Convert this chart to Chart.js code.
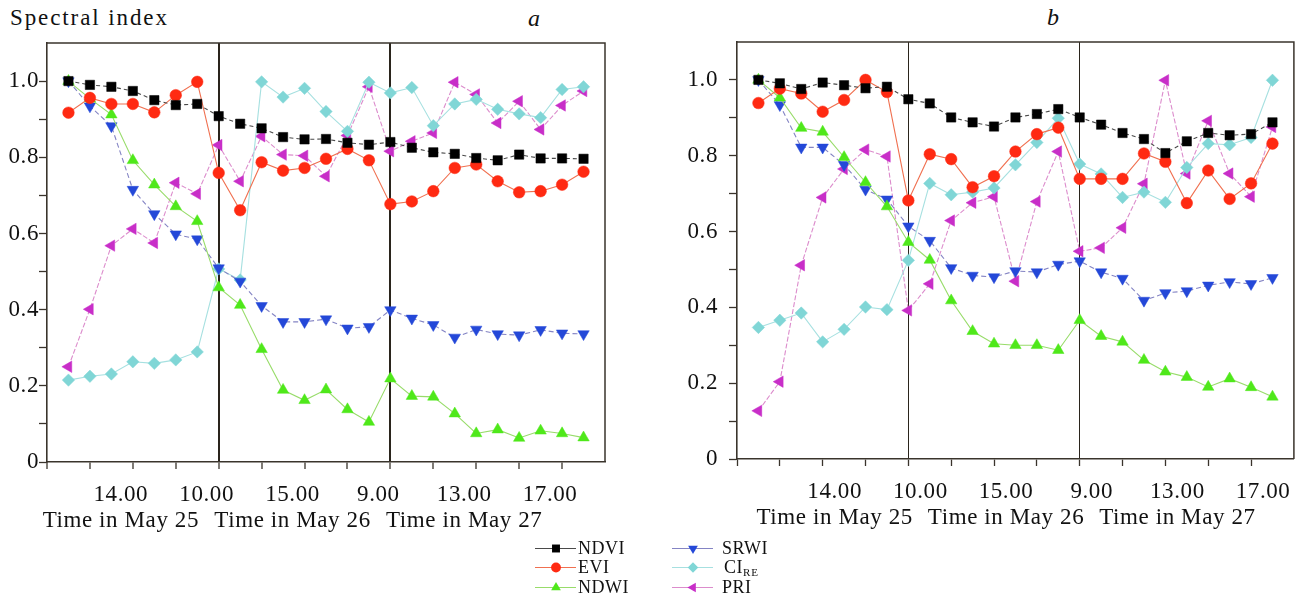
<!DOCTYPE html>
<html><head><meta charset="utf-8">
<script src="https://cdn.jsdelivr.net/npm/chart.js@4.4.1/dist/chart.umd.min.js"></script>
<style>
html,body{margin:0;padding:0;background:#fff;width:1301px;height:601px;overflow:hidden;}
body{position:relative;font-family:'Liberation Serif','Times New Roman',Tinos,'Nimbus Roman','DejaVu Serif',serif;color:#111;}
canvas.ch{position:absolute;top:0;}
#ca{left:0;}
#cb{left:650px;}
.ttl{position:absolute;font-size:23px;line-height:26px;white-space:nowrap;}
.pl{position:absolute;font-size:24px;font-style:italic;line-height:27px;}
.leg{position:absolute;height:18px;font-size:18px;line-height:18px;white-space:nowrap;}
.leg canvas{position:absolute;left:0;top:0;}
.leg span{position:absolute;top:0;}
.leg sub{font-size:11px;vertical-align:-3px;line-height:0;letter-spacing:1px;}
</style></head>
<body>
<div class="ttl" style="left:10px;top:5px;letter-spacing:1.9px;">Spectral index</div>
<div class="pl" style="left:528px;top:5px;">a</div>
<div class="pl" style="left:1047px;top:4px;">b</div>
<canvas id="ca" class="ch" width="650" height="542" style="width:650px;height:542px"></canvas>
<canvas id="cb" class="ch" width="651" height="542" style="width:651px;height:542px"></canvas>
<div id="legend"></div>
<script>
// ---- data ----
const samples = [0,1,2,3,4,5,6,7,8,9,10,11,12,13,14,15,16,17,18,19,20,21,22,23,24];
const xTickValues = [-1,1,3,5,7,9,11,13,15,17,19,21,23];
const hourTicks = [3,7,11,15,19,23];
const hourLabels = ['14.00','10.00','15.00','9.00','13.00','17.00'];
const dayTicks = [3,11,19];
const dayLabels = ['Time in May 25','Time in May 26','Time in May 27'];
const dayBreaks = [7,15];
const yTickValues = [0,0.1,0.2,0.3,0.4,0.5,0.6,0.7,0.8,0.9,1.0];
const seriesNames = ['NDVI','EVI','NDWI','SRWI','CI_RE','PRI'];

const aNDVI = [1.0,0.99,0.985,0.974,0.95,0.937,0.94,0.908,0.888,0.876,0.853,0.847,0.848,0.838,0.833,0.84,0.825,0.813,0.809,0.798,0.792,0.807,0.797,0.797,0.796];
const aEVI  = [0.917,0.956,0.94,0.94,0.918,0.963,0.998,0.759,0.661,0.787,0.765,0.772,0.796,0.822,0.792,0.677,0.684,0.711,0.772,0.781,0.737,0.708,0.711,0.728,0.762];
const aNDWI = [1.0,0.954,0.912,0.792,0.728,0.671,0.632,0.458,0.412,0.296,0.189,0.162,0.19,0.138,0.105,0.219,0.173,0.171,0.127,0.075,0.085,0.063,0.082,0.075,0.064];
const aSRWI = [1.0,0.934,0.882,0.715,0.651,0.598,0.585,0.509,0.474,0.41,0.368,0.368,0.375,0.351,0.355,0.399,0.377,0.36,0.327,0.348,0.336,0.333,0.347,0.338,0.336];
const aCIRE = [0.215,0.225,0.231,0.263,0.259,0.268,0.289,0.507,0.478,0.998,0.958,0.981,0.92,0.868,0.997,0.969,0.983,0.883,0.94,0.952,0.926,0.914,0.904,0.978,0.985];
const aPRI  = [0.25,0.401,0.568,0.612,0.575,0.733,0.704,0.832,0.737,0.855,0.807,0.804,0.75,0.857,0.985,0.816,0.842,0.864,0.997,0.965,0.89,0.947,0.873,0.936,0.974];

const bNDVI = [1.0,0.991,0.976,0.993,0.986,0.978,0.982,0.949,0.938,0.901,0.888,0.877,0.901,0.91,0.923,0.901,0.882,0.86,0.844,0.807,0.838,0.86,0.854,0.857,0.888];
const bEVI  = [0.939,0.977,0.964,0.916,0.947,1.0,0.968,0.682,0.804,0.791,0.717,0.746,0.811,0.857,0.874,0.739,0.739,0.739,0.806,0.784,0.675,0.761,0.686,0.727,0.832];
const bNDWI = [1.0,0.953,0.873,0.863,0.796,0.73,0.666,0.572,0.525,0.418,0.337,0.304,0.3,0.3,0.287,0.366,0.324,0.309,0.261,0.23,0.216,0.19,0.212,0.189,0.164];
const bSRWI = [1.0,0.934,0.822,0.822,0.776,0.711,0.685,0.614,0.576,0.504,0.484,0.48,0.496,0.493,0.513,0.522,0.493,0.476,0.418,0.438,0.443,0.458,0.467,0.462,0.478];
const bCIRE = [0.347,0.366,0.385,0.309,0.342,0.401,0.394,0.524,0.727,0.697,0.704,0.715,0.776,0.835,0.899,0.778,0.752,0.69,0.704,0.677,0.769,0.832,0.829,0.848,0.999];
const bPRI  = [0.127,0.204,0.511,0.69,0.765,0.816,0.798,0.392,0.462,0.629,0.676,0.692,0.469,0.679,0.811,0.548,0.557,0.61,0.726,0.999,0.753,0.892,0.753,0.692,0.876];

const FONT = "'Liberation Serif','Times New Roman',Tinos,'Nimbus Roman','DejaVu Serif',serif";

// ---- styles ----
const styles = [
  {marker:'#000000', line:'#4a4a4a', dash:[4,3], shape:'rect', rot:0, r:6.6},
  {marker:'#ff2a12', line:'#f07050', dash:[], shape:'circle', rot:0, r:5.8},
  {marker:'#4fe81a', line:'#98dc6a', dash:[], shape:'triangle', rot:0, r:6.6},
  {marker:'#2448d8', line:'#8484c4', dash:[5,3], shape:'triangle', rot:180, r:6.6},
  {marker:'#80d6d6', line:'#a6e0e0', dash:[], shape:'rectRot', rot:0, r:6.2},
  {marker:'#c82ec8', line:'#dc8ccc', dash:[5,2], shape:'triangle', rot:-90, r:6.6}
];

function makeDatasets(arrs){
  return arrs.map((vals,k)=>({
    label: seriesNames[k],
    data: vals.map((v,i)=>({x:samples[i], y:v})),
    borderColor: styles[k].line,
    borderWidth: 1.1,
    borderDash: styles[k].dash,
    pointStyle: styles[k].shape,
    pointRotation: styles[k].rot,
    pointRadius: styles[k].r,
    pointBackgroundColor: styles[k].marker,
    pointBorderColor: styles[k].marker,
    pointBorderWidth: 0.5,
    tension: 0,
    fill: false
  }));
}

const framePlugin = {
  id:'frame',
  beforeDraw(chart){ chart.ctx.letterSpacing = '0.6px'; },
  afterDraw(chart){
    const {ctx, chartArea:{left,right,top,bottom}} = chart;
    ctx.save();
    ctx.strokeStyle = '#3a342c';
    ctx.lineWidth = 1.5;
    ctx.beginPath();
    ctx.moveTo(left, top); ctx.lineTo(right, top); ctx.lineTo(right, bottom);
    ctx.stroke();
    ctx.restore();
  }
};

function makeChart(id, arrs, cfg){
  return new Chart(document.getElementById(id), {
    type:'line',
    data:{datasets: makeDatasets(arrs)},
    plugins:[framePlugin],
    options:{
      responsive:false, animation:false,
      layout:{padding:{left:0, right:cfg.padRight, top:cfg.padTop, bottom:0}},
      plugins:{legend:{display:false}, tooltip:{enabled:false}},
      scales:{
        x:{
          type:'linear', min:-1, max:25,
          afterBuildTicks(scale){ scale.ticks = xTickValues.map(v=>({value:v})); },
          afterFit(scale){ scale.height = cfg.xHeight; },
          border:{display:true, color:'#3a342c', width:1.6},
          grid:{
            drawOnChartArea:true, drawTicks:true, tickLength:7,
            color:(c)=> (c.tick && dayBreaks.includes(c.tick.value)) ? '#2a241c' : 'rgba(0,0,0,0)',
            lineWidth: cfg.breakWidth,
            tickColor:'#3a342c', tickWidth:1.3
          },
          ticks:{
            autoSkip:false, maxRotation:0, padding:13, labelOffset:cfg.labelOffset,
            color:'#111',
            font:{family:FONT, size:23, lineHeight:1.13},
            callback:(v)=>{
              const k = hourTicks.indexOf(v);
              if (k < 0) return '';
              const d = dayTicks.indexOf(v);
              return d >= 0 ? [hourLabels[k], dayLabels[d]] : hourLabels[k];
            }
          }
        },
        y:{
          type:'linear', min:0, max:1.1,
          afterBuildTicks(scale){ scale.ticks = yTickValues.map(v=>({value:v})); },
          afterFit(scale){ scale.width = cfg.yWidth; },
          border:{display:true, color:'#3a342c', width:1.6},
          grid:{drawOnChartArea:false, drawTicks:true, tickLength:8, color:'#3a342c', tickColor:'#3a342c', tickWidth:1.3},
          ticks:{
            padding:cfg.yPad, color:'#111',
            font:{family:FONT, size:23},
            callback:(v)=>{
              const t = Math.round(v*10);
              if (t % 2 !== 0) return '';
              return t === 0 ? '0' : (t/10).toFixed(1);
            }
          }
        }
      }
    }
  });
}

makeChart('ca', [aNDVI,aEVI,aNDWI,aSRWI,aCIRE,aPRI], {padRight:45, padTop:43, xHeight:80, yWidth:47, yPad:0, labelOffset:-12, breakWidth:2});
makeChart('cb', [bNDVI,bEVI,bNDWI,bSRWI,bCIRE,bPRI], {padRight:5, padTop:42, xHeight:83, yWidth:87, yPad:11, labelOffset:12, breakWidth:1});

// ---- legend ----
function drawMarker(ctx, st, x, y){
  const r = st.r * 0.85;
  ctx.fillStyle = st.marker;
  ctx.beginPath();
  if (st.shape === 'rect'){
    const s = r*Math.SQRT1_2; ctx.rect(x-s, y-s, 2*s, 2*s);
  } else if (st.shape === 'circle'){
    ctx.arc(x, y, r, 0, Math.PI*2);
  } else if (st.shape === 'rectRot'){
    ctx.moveTo(x, y-r); ctx.lineTo(x+r, y); ctx.lineTo(x, y+r); ctx.lineTo(x-r, y); ctx.closePath();
  } else {
    const rad = st.rot*Math.PI/180;
    for (let j=0;j<3;j++){
      const a = rad + j*2*Math.PI/3;
      const px = x + Math.sin(a)*r, py = y - Math.cos(a)*r;
      if (j===0) ctx.moveTo(px,py); else ctx.lineTo(px,py);
    }
    ctx.closePath();
  }
  ctx.fill();
}
const legend = document.getElementById('legend');
const legPos = [[535,539],[535,558],[535,578],[672,539],[672,558],[672,578]];
const legTextX = [43,43,43,50,52,50];
seriesNames.forEach((name,k)=>{
  const d = document.createElement('div');
  d.className = 'leg';
  d.style.left = legPos[k][0]+'px'; d.style.top = legPos[k][1]+'px';
  const c = document.createElement('canvas'); c.width = 42; c.height = 18;
  const ctx = c.getContext('2d');
  ctx.strokeStyle = styles[k].line; ctx.lineWidth = 1.2;
  ctx.beginPath(); ctx.moveTo(0,9.5); ctx.lineTo(41,9.5); ctx.stroke();
  drawMarker(ctx, styles[k], 21, 9.5);
  d.appendChild(c);
  const s = document.createElement('span');
  s.style.left = legTextX[k]+'px';
  if (name === 'CI_RE'){ s.innerHTML = 'CI<sub>RE</sub>'; } else { s.textContent = name; }
  s.style.letterSpacing = '0.5px';
  d.appendChild(s);
  legend.appendChild(d);
});
</script>
</body></html>
